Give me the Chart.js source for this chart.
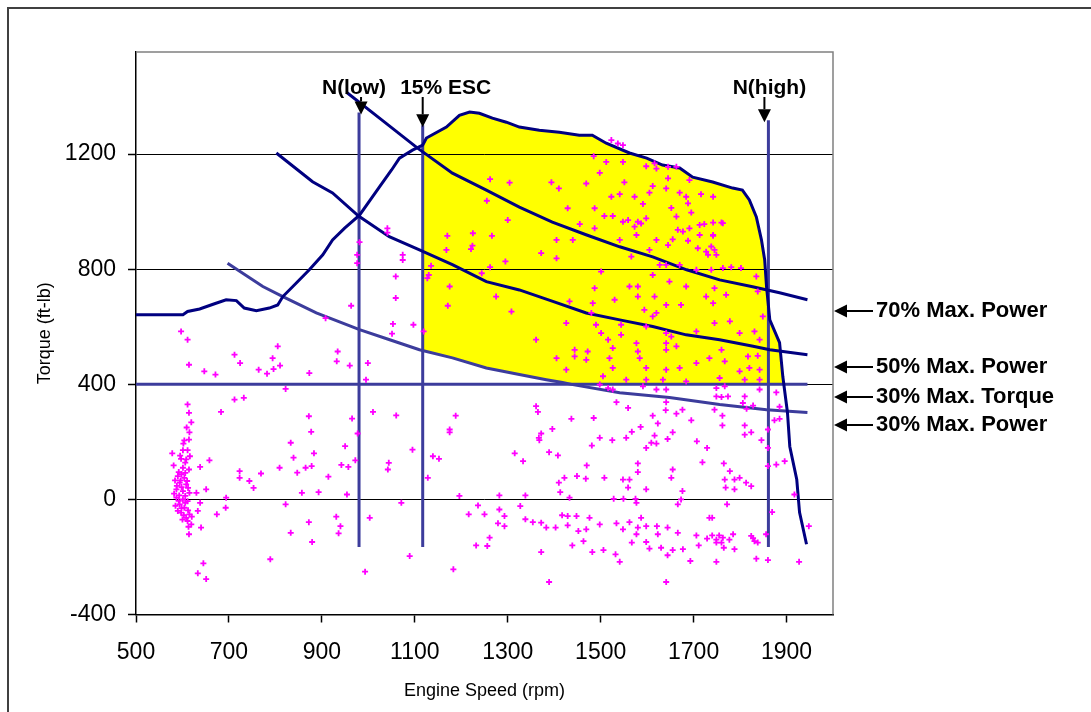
<!DOCTYPE html>
<html>
<head>
<meta charset="utf-8">
<title>Engine Speed vs Torque</title>
<script src="https://cdn.jsdelivr.net/npm/chart.js@4.4.1/dist/chart.umd.min.js"></script>
<style>
  html, body { margin: 0; padding: 0; background: #fff; overflow: hidden; }
  #wrap { position: relative; width: 1091px; height: 712px; overflow: hidden; }
  #frame { position: absolute; left: 7px; top: 7px; width: 1200px; height: 800px; border: 2px solid #404040; }
  #chart { position: absolute; left: 0; top: 0; }
</style>
</head>
<body>
<div id="wrap">
  <div id="frame"></div>
  <canvas id="chart" width="1091" height="712"></canvas>
</div>
<script>
// full load torque curve
var torqueRpm = [500, 601, 611, 637, 669, 694, 716, 733, 759, 787, 805, 816, 845, 873, 902, 923, 949, 981, 1024, 1050,
                 1067, 1095, 1117, 1125, 1168, 1196, 1218, 1239, 1267, 1297, 1325, 1368, 1411, 1454, 1482, 1512, 1562, 1599, 1633, 1670,
                 1698, 1741, 1784, 1805, 1820, 1835, 1846, 1853, 1857, 1864, 1885, 1892, 1902, 1907, 1922, 1928, 1943];
var torqueVal = [642, 642, 653, 662, 680, 694, 691, 665, 656, 665, 676, 705, 752, 798, 850, 902, 943, 988, 1086, 1145,
                 1186, 1214, 1231, 1256, 1294, 1335, 1346, 1342, 1325, 1311, 1294, 1283, 1276, 1266, 1266, 1238, 1204, 1186, 1162, 1152,
                 1120, 1103, 1082, 1075, 1041, 982, 902, 832, 739, 624, 545, 427, 302, 184, 69, -45, -156];

// constant power curves
var p70Rpm = [953, 1024, 1106, 1181, 1254, 1325, 1396, 1470, 1541, 1612, 1685, 1756, 1827, 1885, 1945];
var p70Val = [1415, 1325, 1221, 1134, 1075, 1016, 964, 919, 878, 843, 798, 763, 739, 718, 694];
var p50Rpm = [802, 880, 923, 979, 1045, 1110, 1182, 1254, 1325, 1397, 1469, 1541, 1612, 1684, 1756, 1828, 1864, 1945];
var p50Val = [1204, 1104, 1065, 985, 913, 867, 815, 757, 728, 688, 648, 624, 601, 572, 555, 532, 520, 503];
var p30Rpm = [697, 773, 816, 888, 981, 1046, 1110, 1181, 1254, 1325, 1383, 1418, 1440, 1541, 1648, 1756, 1857, 1945];
var p30Val = [821, 740, 705, 648, 590, 555, 520, 492, 457, 434, 416, 406, 399, 371, 354, 330, 312, 302];

// 30% of max torque
var maxTorqueRpm = [500, 1945];
var maxTorqueVal = [400, 400];

// speed markers
var markerNames = ['N(low)', '15% ESC', 'N(high)'];
var markerRpm = [980, 1117, 1861];
var markerTop = [1345, 1300, 1318];
var markerBottom = [-165, -165, -165];

var curveNames = ['70% Max. Power', '50% Max. Power', '30% Max. Torque', '30% Max. Power'];

var xTicks = [500, 700, 900, 1100, 1300, 1500, 1700, 1900];
var yTicks = [-400, 0, 400, 800, 1200];

// measured operating points [rpm, torque]
var opPoints = [
  [611,330],[614,301],[619,268],[615,233],[614,208],[602,194],[578,160],[601,171],[611,171],[597,141],
  [608,139],[581,118],[601,110],[614,104],[590,81],[604,75],[594,58],[608,52],[587,35],[601,29],
  [615,23],[587,6],[601,0],[611,-6],[594,-17],[604,-29],[597,-46],[615,-52],[611,-75],[619,-87],
  [614,-121],[633,-40],[640,-98],[630,23],[638,-12],[651,35],[638,113],[658,136],[645,-222],[633,-257],
  [651,-277],[674,-52],[694,6],[693,-29],[683,304],[712,347],[732,353],[723,98],[723,75],[744,64],
  [753,40],[769,90],[809,110],[822,384],[822,-17],[833,197],[839,145],[865,110],[878,116],[883,160],
  [877,235],[872,289],[847,93],[857,23],[914,79],[893,25],[872,-79],[833,-116],[879,-148],[789,-208],
  [931,-60],[940,-93],[936,-118],[950,185],[942,120],[957,113],[954,17],[965,281],[977,229],[972,136],
  [1003,-64],[993,-251],[1010,304],[1060,292],[1095,173],[1044,127],[1042,104],[1071,-12],[1089,-197],[1128,75],
  [592,95],[598,88],[606,92],[584,66],[596,66],[610,64],[588,47],[598,43],[612,40],[582,20],
  [593,14],[606,12],[592,-5],[606,-12],[585,-22],[598,-30],[612,-38],[590,-40],[603,-55],[608,-64],
  [600,-70],[613,-95],[606,128],[595,152],[616,150],[604,205],[609,250],[620,-60],
  [597,584],[611,555],[614,468],[647,445],[671,434],[712,503],[724,474],[805,532],[794,491],[810,465],
  [796,453],[764,451],[782,437],[873,439],[934,514],[932,480],[960,465],[999,474],[995,416],[908,630],
  [963,673],[976,850],[976,821],[1074,850],[1059,775],[1059,700],[1053,610],[1051,576],[1097,607],[1119,584],
  [1041,942],[1041,927],[981,894],[1074,832],
  [1262,1113],[1304,1101],[1255,1038],[1300,971],[1225,925],[1266,916],[1170,916],[1168,867],[1224,882],[1221,870],
  [1295,827],[1262,807],[1244,786],[1135,812],[1130,780],[1127,769],[1175,740],[1275,705],[1171,673],
  [1485,1193],[1512,1173],[1548,1173],[1598,1158],[1620,1150],[1498,1135],[1394,1102],[1410,1081],[1469,1098],[1551,1102],
  [1612,1089],[1641,1081],[1605,1066],[1523,1052],[1541,1061],[1573,1052],[1670,1066],[1684,1052],[1716,1061],[1742,1052],
  [1591,1027],[1652,1013],[1688,1029],[1429,1012],[1487,1012],[1695,997],[1508,985],[1526,985],[1598,977],[1663,983],
  [1548,965],[1559,971],[1580,965],[1587,959],[1713,954],[1742,962],[1760,962],[1455,957],[1487,942],[1573,948],
  [1666,937],[1677,931],[1577,919],[1541,902],[1620,902],[1655,904],[1688,899],[1742,916],[1405,902],[1440,902],
  [1645,884],[1709,873],[1727,861],[1745,867],[1738,879],[1749,850],[1605,867],[1372,856],[1405,838],[1566,844],
  [1627,815],[1641,815],[1670,815],[1738,798],[1763,804],[1802,804],[1781,807],[1706,798],[1835,775],[1501,792],
  [1612,780],[1648,757],[1745,734],[1838,723],[1487,734],[1562,740],[1580,740],[1684,740],[1727,705],[1770,711],
  [1580,705],[1616,705],[1530,694],[1483,682],[1641,676],[1673,676],[1742,682],[1433,688],[1308,653],[1594,659],
  [1620,648],[1612,636],[1480,648],[1426,613],[1490,607],[1544,607],[1745,613],[1778,619],[1849,636],[1598,601],
  [1706,584],[1501,578],[1544,572],[1641,578],[1652,566],[1799,578],[1831,584],[1361,555],[1516,555],[1577,543],
  [1641,543],[1663,532],[1842,555],[1444,520],[1472,514],[1526,526],[1580,514],[1641,520],[1760,520],[1405,491],
  [1444,497],[1469,485],[1519,491],[1584,491],[1734,491],[1767,480],[1817,497],[1838,499],[1426,451],[1526,457],
  [1598,457],[1641,451],[1670,457],[1706,474],[1799,445],[1820,457],[1842,451],[1505,428],[1555,416],[1598,416],
  [1634,416],[1684,410],[1756,422],[1810,416],[1842,416],
  [1523,1249],[1537,1237],[1548,1231],[1645,1156],[1663,1156],[1691,1110],[1645,1116],[1616,1168],[1691,942],[1713,919],
  [1742,919],[1731,850],[1723,957],[1763,960],
  [1498,399],[1516,387],[1526,382],[1591,393],[1620,382],[1641,382],[1749,387],[1767,393],[1842,382],[1878,372],
  [1534,338],[1559,318],[1641,338],[1749,358],[1760,356],[1774,358],[1810,358],[1806,335],[1814,315],[1828,326],
  [1885,322],[1361,324],[1365,304],[1188,291],[1175,243],[1175,233],[1139,150],[1152,141],[1437,280],[1485,283],
  [1396,245],[1372,229],[1367,214],[1368,206],[1315,160],[1333,133],[1389,164],[1408,153],[1498,214],[1525,206],
  [1481,187],[1555,214],[1567,235],[1586,252],[1612,291],[1623,264],[1640,310],[1663,298],[1676,312],[1695,275],
  [1655,233],[1644,210],[1616,222],[1609,197],[1598,179],[1620,194],[1707,202],[1729,179],[1762,291],[1762,257],
  [1745,312],[1810,257],[1824,233],[1810,225],[1846,206],[1860,243],[1860,179],[1874,275],[1885,280],[1470,118],
  [1449,81],[1468,72],[1422,75],[1410,58],[1413,25],[1433,6],[1508,75],[1548,69],[1562,69],[1559,41],
  [1580,125],[1580,95],[1598,35],[1528,2],[1549,2],[1575,2],[1577,-12],[1655,104],[1652,75],[1676,29],
  [1673,0],[1666,-17],[1719,129],[1765,125],[1778,98],[1767,69],[1788,69],[1799,75],[1813,58],[1824,46],
  [1769,41],[1788,35],[1860,116],[1878,121],[1896,133],[1917,17],[1772,-17],[1734,-64],[1196,12],[1282,14],
  [1338,14],[1236,-21],[1216,-52],[1250,-52],[1282,-35],[1293,-58],[1279,-83],[1293,-93],[1261,-133],[1232,-160],
  [1256,-162],[1183,-243],[1327,-23],[1338,-69],[1354,-79],[1372,-81],[1383,-98],[1403,-98],[1417,-55],[1429,-58],
  [1448,-58],[1429,-90],[1452,-110],[1469,-104],[1476,-64],[1498,-87],[1463,-145],[1439,-160],[1372,-183],[1389,-287],
  [1482,-183],[1506,-176],[1532,-191],[1541,-217],[1534,-83],[1548,-104],[1562,-79],[1587,-64],[1580,-98],[1598,-93],
  [1577,-121],[1567,-150],[1598,-148],[1621,-93],[1623,-121],[1644,-98],[1666,-116],[1605,-171],[1630,-168],[1644,-194],
  [1655,-176],[1677,-173],[1693,-214],[1641,-287],[1706,-125],[1711,-160],[1729,-136],[1740,-125],[1749,-150],[1763,-133],
  [1765,-168],[1785,-121],[1788,-173],[1740,-64],[1749,-217],[1824,-127],[1831,-145],[1856,-121],[1835,-206],[1860,-211],
  [1869,-44],[1927,-217],[1948,-93],[1749,-140],[1760,-150],[1777,-140],[1755,-125],[1828,-135],[1838,-150]
];

var FONT = "'Liberation Sans', Arial, sans-serif";
var NAVY = '#000080';
var BLUE = '#3c3c9c';

function pts(xs, ys) {
  return xs.map(function (x, i) { return { x: x, y: ys[i] }; });
}

function interp(xs, ys, x) {
  for (var i = 0; i < xs.length - 1; i++) {
    if (x >= xs[i] && x <= xs[i + 1]) {
      return ys[i] + (ys[i + 1] - ys[i]) * (x - xs[i]) / (xs[i + 1] - xs[i]);
    }
  }
  return x < xs[0] ? ys[0] : ys[ys.length - 1];
}

// yellow zone: right of 15% ESC, under the full load curve,
// above both the 30% torque line and the 30% power curve
var escRpm = markerRpm[1];
var floorTorque = maxTorqueVal[0];
var endRpm = torqueRpm[torqueRpm.length - 1];
for (var i = 0; i < torqueRpm.length - 1; i++) {
  if (torqueRpm[i] >= escRpm && torqueVal[i] >= floorTorque && torqueVal[i + 1] < floorTorque) {
    endRpm = torqueRpm[i] + (torqueRpm[i + 1] - torqueRpm[i]) *
      (torqueVal[i] - floorTorque) / (torqueVal[i] - torqueVal[i + 1]);
    break;
  }
}
var zone = [];
torqueRpm.forEach(function (r, i) {
  if (r >= escRpm && r <= endRpm) zone.push({ x: r, y: torqueVal[i] });
});
zone.push({ x: endRpm, y: floorTorque });
var floorX = [escRpm].concat(p30Rpm.filter(function (r) { return r > escRpm && r < endRpm; }));
floorX.reverse().forEach(function (r) {
  zone.push({ x: r, y: Math.max(floorTorque, interp(p30Rpm, p30Val, r)) });
});

function lineSet(data, color) {
  return {
    data: data, borderColor: color, borderWidth: 3, pointRadius: 0, pointHoverRadius: 0,
    fill: false, tension: 0
  };
}

var datasets = [
  {
    data: opPoints.map(function (p) { return { x: p[0], y: p[1] }; }),
    showLine: false, pointStyle: 'cross', pointRadius: 3, pointHoverRadius: 3,
    pointBorderWidth: 1.8, pointBorderColor: '#ff00ff', pointBackgroundColor: '#ff00ff'
  },
  lineSet(pts(torqueRpm, torqueVal), NAVY),
  lineSet(pts(p70Rpm, p70Val), NAVY),
  lineSet(pts(p50Rpm, p50Val), NAVY),
  lineSet(pts(p30Rpm, p30Val), BLUE),
  lineSet(pts(maxTorqueRpm, maxTorqueVal), BLUE)
];
markerRpm.forEach(function (r, i) {
  datasets.push(lineSet([{ x: r, y: markerBottom[i] }, { x: r, y: markerTop[i] }], BLUE));
});
datasets.push({
  data: zone, borderWidth: 0, borderColor: 'rgba(0,0,0,0)', backgroundColor: '#ffff00',
  pointRadius: 0, pointHoverRadius: 0, fill: 'shape', tension: 0
});

function arrow(ctx, x1, y1, x2, y2) {
  var ang = Math.atan2(y2 - y1, x2 - x1), hl = 13, hw = 6.5;
  var bx = x2 - hl * Math.cos(ang), by = y2 - hl * Math.sin(ang);
  ctx.beginPath();
  ctx.moveTo(x1, y1);
  ctx.lineTo(bx, by);
  ctx.stroke();
  ctx.beginPath();
  ctx.moveTo(x2, y2);
  ctx.lineTo(bx + hw * Math.sin(ang), by - hw * Math.cos(ang));
  ctx.lineTo(bx - hw * Math.sin(ang), by + hw * Math.cos(ang));
  ctx.closePath();
  ctx.fill();
}

// plot frame and the arrow labels
var decorations = {
  id: 'decorations',
  afterDraw: function (chart) {
    var ctx = chart.ctx, a = chart.chartArea;
    var xs = chart.scales.x, ys = chart.scales.y;
    ctx.save();
    ctx.strokeStyle = '#808080';
    ctx.lineWidth = 1.5;
    ctx.beginPath();
    ctx.moveTo(a.left, a.top);
    ctx.lineTo(a.right, a.top);
    ctx.lineTo(a.right, a.bottom);
    ctx.stroke();

    ctx.fillStyle = '#000';
    ctx.strokeStyle = '#000';
    ctx.lineWidth = 2;
    ctx.font = 'bold 21px ' + FONT;
    ctx.textBaseline = 'middle';

    // speed markers along the top
    var labelDx = [-5, 23, 1];
    var arrowDx = [2, 0, -4];
    ctx.textAlign = 'center';
    markerNames.forEach(function (name, i) {
      var px = xs.getPixelForValue(markerRpm[i]);
      var top = ys.getPixelForValue(markerTop[i]);
      ctx.fillText(name, px + labelDx[i], 88);
      arrow(ctx, px + arrowDx[i], 97, px + arrowDx[i], top + 2);
    });

    // curve names on the right
    var rowY = [311, 367, 397, 425];
    ctx.textAlign = 'left';
    ctx.font = 'bold 22px ' + FONT;
    curveNames.forEach(function (name, i) {
      ctx.fillText(name, a.right + 43, rowY[i]);
      arrow(ctx, a.right + 40, rowY[i], a.right + 1, rowY[i]);
    });
    ctx.restore();
  }
};

new Chart(document.getElementById('chart'), {
  type: 'line',
  data: { datasets: datasets },
  plugins: [decorations],
  options: {
    responsive: false,
    animation: false,
    events: [],
    layout: { padding: { left: 0, right: 258, top: 52, bottom: 7.5 } },
    plugins: {
      legend: { display: false },
      tooltip: { enabled: false },
      filler: { drawTime: 'beforeDraw' }
    },
    scales: {
      x: {
        type: 'linear', min: 500, max: 2000,
        afterBuildTicks: function (s) { s.ticks = xTicks.map(function (v) { return { value: v }; }); },
        afterFit: function (s) { s.height = 90; },
        grid: { drawOnChartArea: false, drawTicks: true, tickLength: 8, tickColor: '#000', tickWidth: 1.5 },
        border: { display: true, color: '#000', width: 1.5 },
        ticks: {
          color: '#000', font: { family: FONT, size: 23 }, padding: 16,
          maxRotation: 0, autoSkip: false, callback: function (v) { return String(v); }
        },
        title: {
          display: true, text: 'Engine Speed (rpm)', color: '#000',
          font: { family: FONT, size: 18 }, padding: { top: 0, bottom: 3 }
        }
      },
      y: {
        type: 'linear', min: -400, max: 1555,
        afterBuildTicks: function (s) { s.ticks = yTicks.map(function (v) { return { value: v }; }); },
        afterFit: function (s) { s.width = 136; },
        grid: { color: '#000', lineWidth: 1, drawTicks: true, tickLength: 8, tickColor: '#000', tickWidth: 1.5 },
        border: { display: true, color: '#000', width: 1.5 },
        ticks: {
          color: '#000', font: { family: FONT, size: 23 }, padding: 12,
          callback: function (v) { return String(v); }
        },
        title: {
          display: true, text: 'Torque (ft-lb)', color: '#000',
          font: { family: FONT, size: 18 }, padding: { top: 34, bottom: 0 }
        }
      }
    }
  }
});
</script>
</body>
</html>
